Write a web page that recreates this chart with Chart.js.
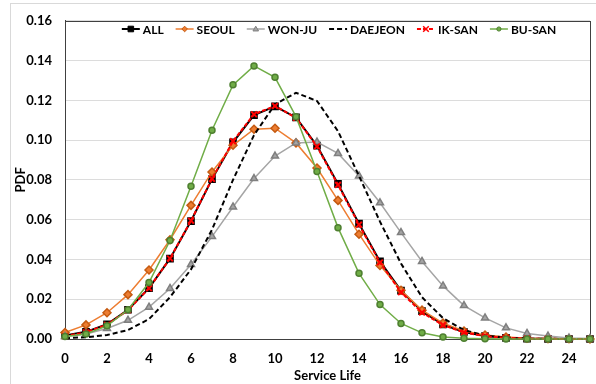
<!DOCTYPE html>
<html>
<head>
<meta charset="utf-8">
<script src="https://cdn.jsdelivr.net/npm/chart.js@4.4.1/dist/chart.umd.min.js"></script>
<style>
  html, body { margin: 0; padding: 0; background: #fff; }
  #wrap { width: 596px; height: 384px; position: relative; }
</style>
</head>
<body>
<div id="wrap"><canvas id="chart"></canvas></div>
<script>
// service life (years), one point per year
const serviceLife = [0,1,2,3,4,5,6,7,8,9,10,11,12,13,14,15,16,17,18,19,20,21,22,23,24,25];
const xTicks = [0,2,4,6,8,10,12,14,16,18,20,22,24];
const yTicks = [0,0.02,0.04,0.06,0.08,0.10,0.12,0.14,0.16];

const pdfAll     = [0.0018,0.0036,0.0074,0.0147,0.0256,0.0404,0.0593,0.0804,0.0989,0.1126,0.1170,0.1114,0.0972,0.0780,0.0580,0.0390,0.0243,0.0140,0.0073,0.0035,0.0015,0.0006,0.0002,0.0001,0,0];
const pdfSeoul   = [0.0033,0.0071,0.0132,0.0223,0.0347,0.0499,0.0672,0.0840,0.0974,0.1055,0.1060,0.0986,0.0860,0.0697,0.0527,0.0370,0.0245,0.0145,0.0080,0.0040,0.0020,0.0010,0.0004,0.0002,0.0001,0];
const pdfWonju   = [0.0012,0.0025,0.0053,0.0094,0.0160,0.0254,0.0375,0.0515,0.0664,0.0807,0.0920,0.0986,0.0990,0.0933,0.0820,0.0685,0.0535,0.0390,0.0267,0.0168,0.0106,0.0056,0.0028,0.0015,0.0005,0.0002];
const pdfDaejeon = [0.0004,0.0009,0.0020,0.0045,0.0100,0.0210,0.0350,0.0550,0.0800,0.1025,0.1180,0.1238,0.1197,0.1045,0.0820,0.0590,0.0380,0.0210,0.0105,0.0045,0.0018,0.0007,0.0002,0.0001,0,0];
const pdfIksan   = [0.0015,0.0034,0.0072,0.0145,0.0255,0.0405,0.0595,0.0805,0.0995,0.1130,0.1172,0.1112,0.0968,0.0775,0.0575,0.0385,0.0235,0.0133,0.0070,0.0033,0.0014,0.0006,0.0002,0.0001,0,0];
const pdfBusan   = [0.0012,0.0025,0.0066,0.0147,0.0284,0.0495,0.0768,0.1050,0.1278,0.1373,0.1316,0.1118,0.0842,0.0560,0.0330,0.0173,0.0078,0.0031,0.0010,0.0004,0.0001,0,0,0,0,0];

const FONT = 'Lato, "Open Sans", sans-serif';
const FONT_SIZE = 13;

const toPoints = vals => serviceLife.map((x, i) => ({ x: x, y: vals[i] }));

function drawMarker(ctx, style, x, y, r) {
  ctx.beginPath();
  if (style === 'rect') {
    ctx.rect(x - r, y - r, 2 * r, 2 * r);
    ctx.fill(); ctx.stroke();
  } else if (style === 'rectRot') {
    ctx.moveTo(x, y - r); ctx.lineTo(x + r, y); ctx.lineTo(x, y + r); ctx.lineTo(x - r, y); ctx.closePath();
    ctx.fill(); ctx.stroke();
  } else if (style === 'triangle') {
    ctx.moveTo(x, y - r); ctx.lineTo(x + r, y + r * 0.7); ctx.lineTo(x - r, y + r * 0.7); ctx.closePath();
    ctx.fill(); ctx.stroke();
  } else if (style === 'circle') {
    ctx.arc(x, y, r, 0, Math.PI * 2);
    ctx.fill(); ctx.stroke();
  } else if (style === 'crossRot') {
    ctx.moveTo(x - r, y - r); ctx.lineTo(x + r, y + r);
    ctx.moveTo(x + r, y - r); ctx.lineTo(x - r, y + r);
    ctx.stroke();
  }
}

const datasets = [
  { label: 'ALL', data: toPoints(pdfAll), borderColor: '#000000', borderWidth: 2,
    pointStyle: 'rect', pointRadius: 4, pointBackgroundColor: '#000000', pointBorderColor: '#000000', order: 5 },
  { label: 'SEOUL', data: toPoints(pdfSeoul), borderColor: '#ED7D31', borderWidth: 1.5,
    pointStyle: 'rectRot', pointRadius: 4, pointBackgroundColor: '#ED7D31', pointBorderColor: '#C55A11', order: 4 },
  { label: 'WON-JU', data: toPoints(pdfWonju), borderColor: '#A5A5A5', borderWidth: 1.5,
    pointStyle: 'triangle', pointRadius: 4, pointBackgroundColor: '#A5A5A5', pointBorderColor: '#7F7F7F', order: 3 },
  { label: 'DAEJEON', data: toPoints(pdfDaejeon), borderColor: '#000000', borderWidth: 2, borderDash: [5, 3],
    pointStyle: false, pointRadius: 0, order: 2 },
  { label: 'IK-SAN', data: toPoints(pdfIksan), borderColor: '#FF0000', borderWidth: 2, borderDash: [4, 2],
    pointStyle: 'crossRot', pointRadius: 4, pointBackgroundColor: '#FF0000', pointBorderColor: '#FF0000', pointBorderWidth: 2, order: 1 },
  { label: 'BU-SAN', data: toPoints(pdfBusan), borderColor: '#70AD47', borderWidth: 1.5,
    pointStyle: 'circle', pointRadius: 3, pointBackgroundColor: '#70AD47', pointBorderColor: '#4E7F30', order: 0 }
];
datasets.forEach(ds => { ds.tension = 0; ds.clip = false; ds.pointHoverRadius = ds.pointRadius; });

// plot frame + outer chart border
const framePlugin = {
  id: 'frame',
  beforeDraw(chart) {
    const ctx = chart.ctx;
    ctx.save();
    ctx.strokeStyle = '#d9d9d9';
    ctx.lineWidth = 1;
    ctx.strokeRect(10.5, 3.5, 600, 400);
    ctx.restore();
  },
  beforeDatasetsDraw(chart) {
    const a = chart.chartArea;
    const ctx = chart.ctx;
    ctx.save();
    ctx.strokeStyle = '#404040';
    ctx.lineWidth = 1;
    ctx.strokeRect(Math.round(a.left) + 0.5, Math.round(a.top) + 0.5,
      Math.round(a.right - a.left), Math.round(a.bottom - a.top));
    ctx.restore();
  }
};

// Excel-style legend sitting inside the top of the plot area
const insideLegend = {
  id: 'insideLegend',
  afterDraw(chart) {
    const ctx = chart.ctx;
    const sets = chart.data.datasets;
    const lineLen = 18, gapText = 3, gapItem = 12;
    const centerX = 339, y = 29;
    ctx.save();
    ctx.font = 'bold 12px ' + FONT;
    ctx.textBaseline = 'middle';
    const widths = sets.map(ds => lineLen + gapText + ctx.measureText(ds.label).width);
    const total = widths.reduce((a, b) => a + b, 0) + gapItem * (sets.length - 1);
    let x = centerX - total / 2;
    sets.forEach((ds, i) => {
      ctx.strokeStyle = ds.borderColor;
      ctx.lineWidth = ds.borderWidth;
      ctx.setLineDash(ds.borderDash || []);
      ctx.beginPath();
      ctx.moveTo(x, y); ctx.lineTo(x + lineLen, y);
      ctx.stroke();
      ctx.setLineDash([]);
      if (ds.pointRadius > 0) {
        ctx.fillStyle = ds.pointBackgroundColor;
        ctx.strokeStyle = ds.pointBorderColor;
        ctx.lineWidth = ds.pointStyle === 'crossRot' ? 1.5 : 1;
        drawMarker(ctx, ds.pointStyle, x + lineLen / 2, y, ds.pointRadius * 0.7);
      }
      ctx.fillStyle = '#000';
      ctx.fillText(ds.label, x + lineLen + gapText, y + 1);
      x += widths[i] + gapItem;
    });
    ctx.restore();
  }
};

new Chart(document.getElementById('chart'), {
  type: 'line',
  data: { datasets: datasets },
  plugins: [framePlugin, insideLegend],
  options: {
    responsive: true,
    maintainAspectRatio: false,
    animation: false,
    layout: { padding: { left: 0, right: 3, top: 15, bottom: 0 } },
    plugins: {
      tooltip: { enabled: false },
      legend: { display: false }
    },
    scales: {
      x: {
        type: 'linear',
        min: 0,
        max: 25,
        afterFit(s) { s.height = 45; },
        grid: { display: false, drawTicks: false },
        border: { display: true, color: '#404040' },
        ticks: {
          stepSize: 2,
          includeBounds: false,
          padding: 12,
          color: '#000',
          font: { family: FONT, size: FONT_SIZE, weight: 'bold' },
          callback: v => xTicks.includes(v) ? String(v) : ''
        },
        title: {
          display: true,
          text: 'Service Life',
          color: '#000',
          padding: { top: 0, bottom: 0 },
          font: { family: FONT, size: FONT_SIZE, weight: 'bold' }
        }
      },
      y: {
        min: 0,
        max: 0.16,
        afterFit(s) { s.width = 65; },
        afterBuildTicks(s) { s.ticks = yTicks.map(v => ({ value: v })); },
        grid: { color: '#dcdcdc', lineWidth: 1, drawTicks: false },
        border: { display: true, color: '#404040' },
        ticks: {
          padding: 13,
          color: '#000',
          font: { family: FONT, size: FONT_SIZE, weight: 'bold' },
          callback: v => v.toFixed(2)
        },
        title: {
          display: true,
          text: 'PDF',
          color: '#000',
          padding: { top: 13, bottom: 0 },
          font: { family: FONT, size: FONT_SIZE, weight: 'bold' }
        }
      }
    }
  }
});
</script>
</body>
</html>
